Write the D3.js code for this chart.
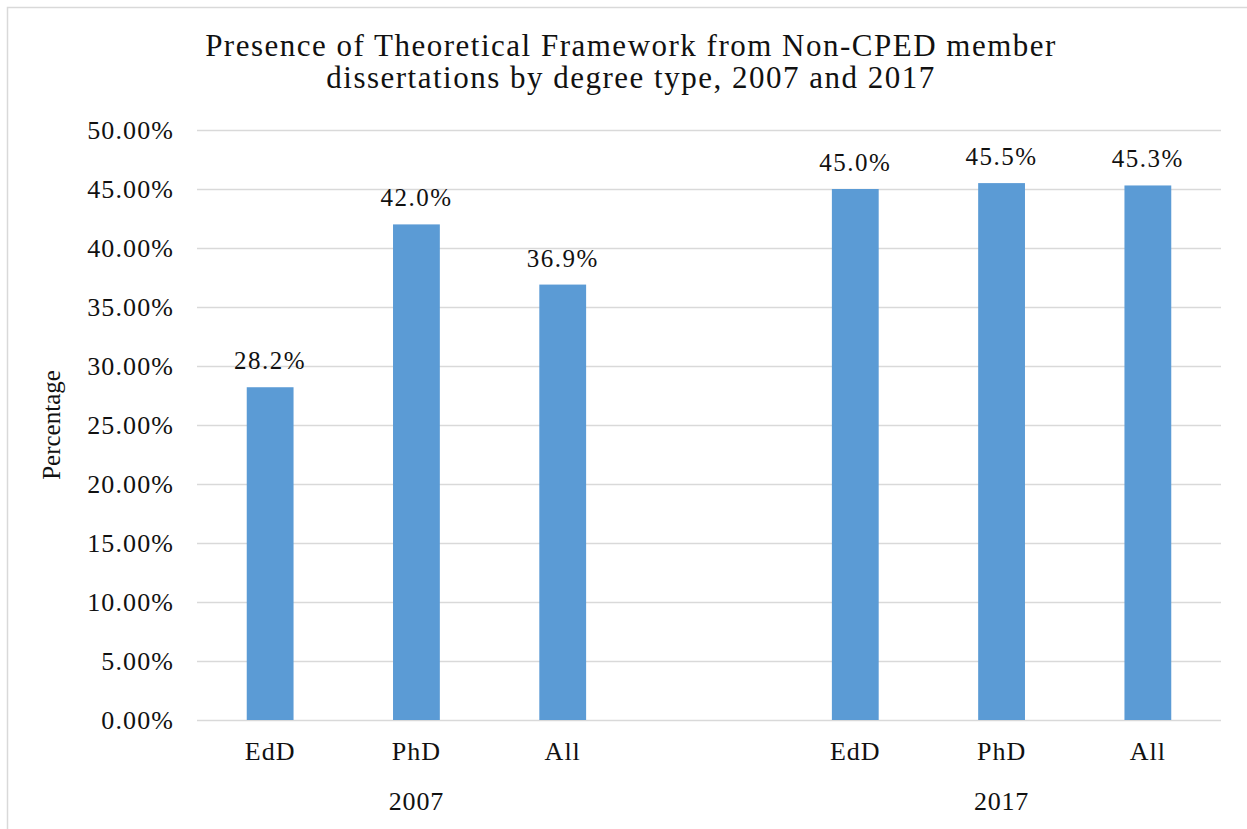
<!DOCTYPE html>
<html>
<head>
<meta charset="utf-8">
<script src="https://cdn.jsdelivr.net/npm/d3@7"></script>
<style>
  html, body { margin: 0; padding: 0; background: #fff; }
  svg { display: block; font-family: "Liberation Serif", "Times New Roman", serif; }
</style>
</head>
<body>
<svg id="chart" width="1247" height="829"></svg>
<script>
// ---- data ----
const years = ["2007", "2017"];
const degrees = ["EdD", "PhD", "All"];
const values2007 = [28.2, 42.0, 36.9];
const values2017 = [45.0, 45.5, 45.3];
const yTicks = [0, 5, 10, 15, 20, 25, 30, 35, 40, 45, 50];
const titleLines = ["Presence of Theoretical Framework from Non-CPED member",
                    "dissertations by degree type, 2007 and 2017"];
const yAxisTitle = "Percentage";

// build slot list (blank slot between years, as in the original)
const slots = [];
years.forEach((yr, yi) => {
  if (yi > 0) slots.push({ key: "gap" + yi, year: null, degree: "", value: null });
  const vals = yi === 0 ? values2007 : values2017;
  degrees.forEach((d, di) => slots.push({ key: yr + "-" + d, year: yr, degree: d, value: vals[di] }));
});

const svg = d3.select("#chart");
const W = 1247, H = 829;
const plot = { left: 197, right: 1221, top: 130, bottom: 720 };

// chart border (top / left visible)
svg.append("rect").attr("x", 7.5).attr("y", 7.5).attr("width", W + 20).attr("height", H + 20)
  .attr("fill", "#fff").attr("stroke", "#d9d9d9").attr("stroke-width", 1.5);

const x = d3.scaleBand().domain(slots.map(s => s.key))
  .range([plot.left, plot.right]).paddingInner(0.68).paddingOuter(0.34);
const y = d3.scaleLinear().domain([0, 50]).range([plot.bottom, plot.top]);

// gridlines
svg.append("g").selectAll("line").data(yTicks).join("line")
  .attr("x1", plot.left).attr("x2", plot.right)
  .attr("y1", d => Math.round(y(d)) + 0.5).attr("y2", d => Math.round(y(d)) + 0.5)
  .attr("stroke", "#d9d9d9").attr("stroke-width", 1.3);

// y axis labels
const yAxis = d3.axisLeft(y).tickValues(yTicks).tickSize(0).tickPadding(0)
  .tickFormat(d => d.toFixed(2) + "%");
const gy = svg.append("g").attr("transform", `translate(${plot.left - 23},0)`).call(yAxis);
gy.select(".domain").remove();
gy.selectAll("text").attr("font-family", "Liberation Serif, Times New Roman, serif")
  .attr("font-size", 26).attr("fill", "#111").attr("letter-spacing", 1.1).attr("dy", "0.34em");

// bars
const bars = slots.filter(s => s.value !== null);
svg.append("g").selectAll("rect").data(bars).join("rect")
  .attr("x", d => x(d.key)).attr("width", x.bandwidth())
  .attr("y", d => y(d.value)).attr("height", d => y(0) - y(d.value))
  .attr("fill", "#5b9bd5");

// data labels
svg.append("g").selectAll("text").data(bars).join("text")
  .attr("x", d => x(d.key) + x.bandwidth() / 2)
  .attr("y", d => y(d.value) - 18)
  .attr("text-anchor", "middle").attr("font-size", 25).attr("fill", "#111")
  .attr("letter-spacing", 1.5)
  .text(d => d.value.toFixed(1) + "%");

// category labels
const xAxis = d3.axisBottom(x).tickSize(0).tickPadding(0)
  .tickFormat(k => slots.find(s => s.key === k).degree);
const gx = svg.append("g").attr("transform", `translate(0,${plot.bottom + 40})`).call(xAxis);
gx.select(".domain").remove();
gx.selectAll("text").attr("font-family", "Liberation Serif, Times New Roman, serif")
  .attr("font-size", 26).attr("fill", "#111").attr("letter-spacing", 1).attr("dy", 0);

// year labels
svg.append("g").selectAll("text").data(years).join("text")
  .attr("x", yr => x(yr + "-PhD") + x.bandwidth() / 2)
  .attr("y", plot.bottom + 90)
  .attr("text-anchor", "middle").attr("font-size", 26).attr("fill", "#111")
  .attr("letter-spacing", 0.8)
  .text(yr => yr);

// y axis title
svg.append("text")
  .attr("transform", `translate(60,${(plot.top + plot.bottom) / 2}) rotate(-90)`)
  .attr("text-anchor", "middle").attr("font-size", 25).attr("fill", "#111")
  .text(yAxisTitle);

// title
svg.append("g").selectAll("text").data(titleLines).join("text")
  .attr("x", 631).attr("y", (d, i) => 56 + i * 32)
  .attr("text-anchor", "middle").attr("font-size", 31).attr("fill", "#111")
  .attr("letter-spacing", 1.5)
  .text(d => d);
</script>
</body>
</html>
